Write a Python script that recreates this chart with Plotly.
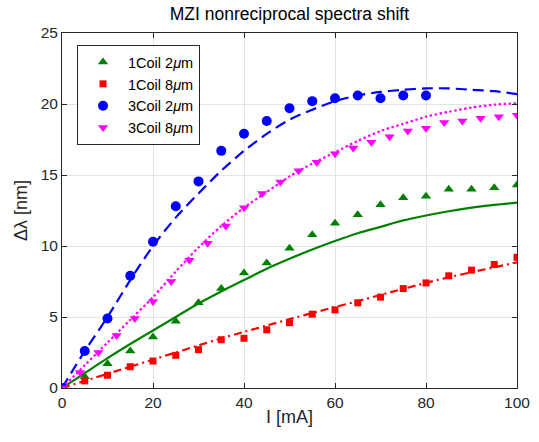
import plotly.graph_objects as go

# Measured nonreciprocal shift, Δλ [nm], versus coil current I [mA]
i_5 = [0, 5, 10, 15, 20, 25, 30, 35, 40, 45, 50, 55, 60, 65, 70, 75, 80, 85, 90, 95, 100]
coil1_2um = [0, 0.8, 1.7, 2.6, 3.6, 4.7, 6.0, 7.0, 8.1, 8.8, 9.85, 10.8, 11.6, 12.2, 12.9,
             13.4, 13.5, 14.0, 14.0, 14.1, 14.3]
coil1_8um = [0, 0.5, 0.9, 1.5, 1.9, 2.3, 2.7, 3.4, 3.5, 4.1, 4.6, 5.2, 5.5, 6.0, 6.4,
             7.0, 7.4, 7.9, 8.3, 8.7, 9.2]

i_3c2 = [0, 5, 10, 15, 20, 25, 30, 35, 40, 45, 50, 55, 60, 65, 70, 75, 80]
coil3_2um = [0, 2.6, 4.9, 7.9, 10.3, 12.8, 14.55, 16.7, 17.9, 18.8, 19.7, 20.2, 20.4,
             20.6, 20.4, 20.6, 20.6]

i_4 = [0, 4, 8, 12, 16, 20, 24, 28, 32, 36, 40, 44, 48, 52, 56, 60, 64, 68, 72, 76,
       80, 84, 88, 92, 96, 100]
coil3_8um = [0, 1.1, 2.5, 3.7, 4.9, 6.1, 7.5, 9.0, 10.2, 11.4, 12.7, 13.7, 14.5, 15.3,
             15.9, 16.5, 16.9, 17.3, 17.7, 18.1, 18.3, 18.7, 18.8, 19.0, 19.1, 19.2]

# Fitted curves
i_fit = [0, 5, 10, 15, 20, 25, 30, 35, 40, 45, 50, 55, 60, 65, 70, 75, 80, 85, 90, 95, 100]
fit_1c2 = [0, 1.05, 2.1, 3.1, 4.05, 5.0, 5.95, 6.8, 7.6, 8.4, 9.1, 9.75, 10.35, 10.9,
           11.35, 11.8, 12.15, 12.45, 12.7, 12.9, 13.05]
fit_1c8 = [0, 0.5, 1.0, 1.5, 2.0, 2.5, 3.0, 3.5, 3.95, 4.4, 4.85, 5.28, 5.7, 6.12,
           6.55, 6.98, 7.4, 7.8, 8.15, 8.5, 8.85]
fit_3c2 = [0, 2.6, 5.0, 7.6, 10.0, 12.0, 13.7, 15.3, 16.7, 17.9, 18.9, 19.6, 20.2,
           20.6, 20.85, 21.0, 21.1, 21.1, 21.0, 20.9, 20.7]
fit_3c8 = [0, 1.6, 3.2, 4.8, 6.4, 8.2, 9.9, 11.4, 12.7, 13.8, 14.9, 15.8, 16.6, 17.4,
           18.1, 18.6, 19.1, 19.45, 19.75, 19.95, 20.05]

GREEN = "#008000"
RED = "#ff0000"
BLUE = "#0000ff"
MAGENTA = "#ff00ff"
AXIS = "#262626"
FONT = "Liberation Sans, Arial, sans-serif"

fig = go.Figure()

# fit lines (not listed in the legend)
fits = [
    (fit_1c2, GREEN, "solid"),
    (fit_1c8, RED, "8px,4px,2px,4px"),
    (fit_3c2, BLUE, "11px,6px"),
    (fit_3c8, MAGENTA, "2.5px,2.5px"),
]
for ys, col, dash in fits:
    fig.add_trace(go.Scatter(
        x=i_fit, y=ys, mode="lines", showlegend=False, hoverinfo="skip",
        line=dict(color=col, width=2.2, dash=dash, shape="spline", smoothing=0.8),
    ))

# measured points
meas = [
    (i_5, coil1_2um, "1Coil 2<i>μ</i>m", GREEN, "triangle-up", 9),
    (i_5, coil1_8um, "1Coil 8<i>μ</i>m", RED, "square", 7),
    (i_3c2, coil3_2um, "3Coil 2<i>μ</i>m", BLUE, "circle", 10),
    (i_4, coil3_8um, "3Coil 8<i>μ</i>m", MAGENTA, "triangle-down", 9),
]
for xs, ys, name, col, sym, sz in meas:
    fig.add_trace(go.Scatter(
        x=xs, y=ys, mode="markers", name=name,
        marker=dict(color=col, symbol=sym, size=sz, line=dict(width=0)),
    ))

axis_common = dict(
    showline=True, linecolor=AXIS, linewidth=1, mirror="allticks",
    ticks="inside", ticklen=5, tickcolor=AXIS, tickwidth=1,
    showgrid=True, gridcolor="#e3e3e3", gridwidth=1, zeroline=False,
    tickfont=dict(family=FONT, size=15.5, color=AXIS),
    automargin=False,
)

fig.update_xaxes(range=[0, 100], tick0=0, dtick=20,
                 title=dict(text="I [mA]", font=dict(family=FONT, size=18, color=AXIS), standoff=0),
                 **axis_common)
fig.update_yaxes(range=[0, 25], tick0=0, dtick=5,
                 title=dict(text="Δλ [nm]", font=dict(family=FONT, size=18, color=AXIS), standoff=8),
                 **axis_common)

fig.update_layout(
    width=539, height=442,
    margin=dict(l=62, r=22, t=33, b=54),
    paper_bgcolor="white", plot_bgcolor="white",
    title=dict(text="MZI nonreciprocal spectra shift", x=0.537, xanchor="center",
               y=0.968, yanchor="middle",
               font=dict(family=FONT, size=17.5, color="#000000")),
    legend=dict(x=0.033, y=0.966, xanchor="left", yanchor="top",
                bgcolor="white", bordercolor=AXIS, borderwidth=1,
                font=dict(family=FONT, size=14.5, color="#000000"),
                itemwidth=40, tracegroupgap=0),
    font=dict(family=FONT),
)

fig.write_html("out.html")
